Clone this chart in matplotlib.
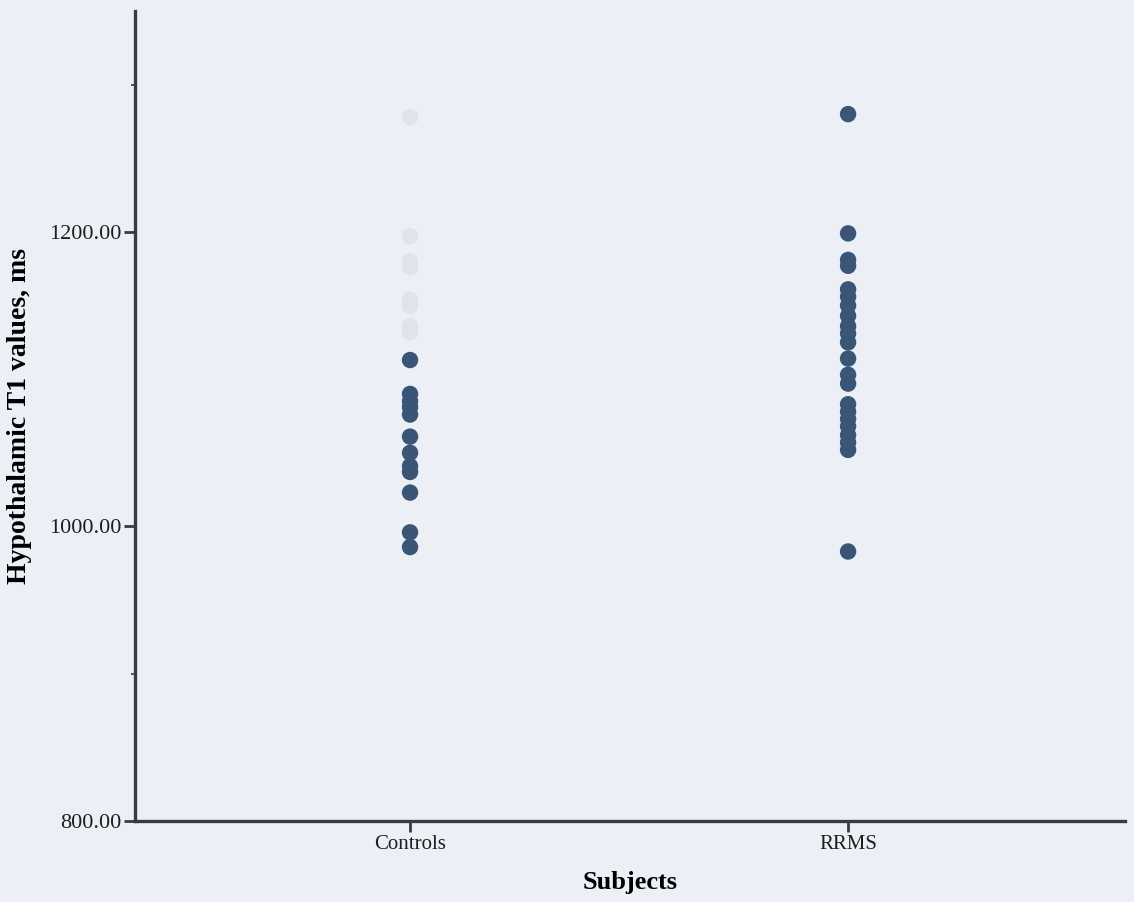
import numpy as np
import matplotlib.pyplot as plt
from matplotlib.ticker import FixedLocator

# group names and T1 values (ms)
groups = ['Controls', 'RRMS']
controls = [1113, 1090, 1085, 1081, 1076, 1061, 1050, 1041, 1037, 1023, 996, 986]
# controls points that are almost washed out in the scan
controls_faint = [1278, 1197, 1180, 1176, 1154, 1150, 1136, 1132]
rrms = [1280, 1199, 1181, 1177, 1161, 1156, 1150, 1143, 1136, 1131, 1125, 1114,
        1103, 1097, 1083, 1078, 1073, 1068, 1062, 1057, 1052, 983]

bg = '#edeff7'
dot = '#3b5577'
line_col = '#3a3a42'

plt.rcParams['font.family'] = ['Liberation Serif', 'DejaVu Serif']

fig = plt.figure(figsize=(11.34, 9.02), dpi=100, facecolor=bg)
ax = fig.add_axes([0.119, 0.0898, 0.873, 0.898], facecolor=bg)

ax.scatter(np.zeros(len(controls_faint)), controls_faint, s=140, color='#e1e3ec',
           edgecolors='none', zorder=2)
ax.scatter(np.zeros(len(controls)), controls, s=140, color=dot, edgecolors='none', zorder=3)
ax.scatter(np.ones(len(rrms)), rrms, s=140, color=dot, edgecolors='none', zorder=3)

ax.set_xlim(-0.628, 1.632)
ax.set_ylim(800, 1350)

ax.set_xticks([0, 1])
ax.set_xticklabels(groups, fontsize=15)
ax.set_yticks([800, 1000, 1200])
ax.set_yticklabels(['800.00', '1000.00', '1200.00'], fontsize=16)
ax.yaxis.set_minor_locator(FixedLocator([900, 1300]))

ax.tick_params(axis='both', which='major', direction='out', length=8, width=2,
               color=line_col, labelcolor='#1e1e1e', pad=2)
ax.tick_params(axis='y', which='minor', direction='out', length=3, width=1.2, color=line_col)

for side in ['top', 'right']:
    ax.spines[side].set_visible(False)
for side in ['left', 'bottom']:
    ax.spines[side].set_linewidth(2.4)
    ax.spines[side].set_color(line_col)

ax.set_xlabel('Subjects', fontsize=19, fontweight='bold', labelpad=12)
ax.set_ylabel('Hypothalamic T1 values, ms', fontsize=20, fontweight='bold', labelpad=12)

fig.savefig('out.png', dpi=100, facecolor=bg)
